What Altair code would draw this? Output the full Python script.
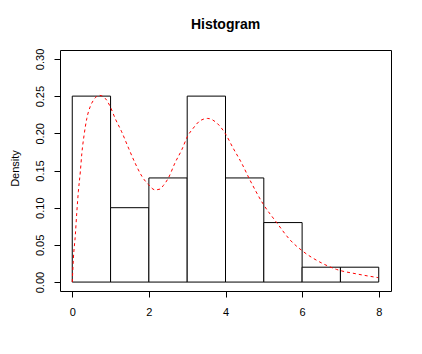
import altair as alt
import pandas as pd

# Histogram bins (density scale)
bin_left = [0, 1, 2, 3, 4, 5, 6, 7]
bin_right = [1, 2, 3, 4, 5, 6, 7, 8]
bar_density = [0.25, 0.10, 0.14, 0.25, 0.14, 0.08, 0.02, 0.02]

# Density curve
curve_x = [0.00, 0.03, 0.08, 0.12, 0.16, 0.21, 0.25, 0.31, 0.38, 0.47, 0.56,
           0.71, 0.86, 0.99, 1.12, 1.29, 1.47, 1.64, 1.82, 1.99, 2.16, 2.29,
           2.38, 2.51, 2.68, 2.86, 3.01, 3.16, 3.34, 3.53, 3.77, 3.99, 4.20,
           4.42, 4.64, 4.97, 5.35, 5.68, 6.03, 6.46, 6.90, 7.42, 7.98]
curve_y = [0.000, 0.032, 0.063, 0.095, 0.122, 0.148, 0.173, 0.198, 0.220, 0.236, 0.245,
           0.251, 0.247, 0.236, 0.220, 0.202, 0.180, 0.160, 0.142, 0.131, 0.124, 0.125,
           0.130, 0.140, 0.160, 0.178, 0.196, 0.207, 0.217, 0.220, 0.214, 0.200, 0.180,
           0.160, 0.137, 0.106, 0.079, 0.057, 0.041, 0.027, 0.017, 0.011, 0.006]

x_ticks = [0, 2, 4, 6, 8]
y_ticks = [0.00, 0.05, 0.10, 0.15, 0.20, 0.25, 0.30]

bars_df = pd.DataFrame({"left": bin_left, "right": bin_right, "density": bar_density})
curve_df = pd.DataFrame({"x": curve_x, "y": curve_y})

font = "Liberation Sans"
xscale = alt.Scale(domain=[-0.32, 8.32], nice=False, zero=False)
yscale = alt.Scale(domain=[-0.012, 0.312], nice=False, zero=False)

xaxis = alt.Axis(values=x_ticks, title=None, grid=False, domain=False,
                 tickSize=6, tickColor="black", labelColor="black",
                 labelFont=font, labelFontSize=11, labelPadding=9)
yaxis = alt.Axis(values=y_ticks, format=".2f", title="Density", grid=False,
                 domain=False, tickSize=6, tickColor="black", labelColor="black",
                 labelFont=font, labelFontSize=11, labelPadding=9,
                 labelAngle=270, labelAlign="center", labelBaseline="bottom",
                 titleFont=font, titleFontSize=11, titleFontWeight="normal",
                 titleColor="black", titleAngle=270, titleX=-45, titleY=118,
                 titleAlign="center", titleBaseline="middle")

bars = alt.Chart(bars_df).mark_rect(fill="white", stroke="black", strokeWidth=1).encode(
    x=alt.X("left:Q", scale=xscale, axis=xaxis),
    x2="right:Q",
    y=alt.Y("density:Q", scale=yscale, axis=yaxis),
    y2=alt.datum(0),
)

curve = alt.Chart(curve_df).mark_line(
    color="red", strokeDash=[3, 3], strokeWidth=1, interpolate="monotone"
).encode(
    x=alt.X("x:Q", scale=xscale),
    y=alt.Y("y:Q", scale=yscale),
)

chart = alt.layer(bars, curve).properties(
    width=331,
    height=241,
    title=alt.TitleParams("Histogram", font=font, fontSize=14, fontWeight="bold",
                          color="black", anchor="middle", baseline="alphabetic",
                          offset=5, frame="group"),
    autosize=alt.AutoSizeParams(type="none"),
    padding={"left": 52, "top": 42, "right": 15, "bottom": 47},
    background="white",
).configure_view(stroke="black", strokeWidth=1)

chart.save("out.html", embed_options={"renderer": "svg", "actions": False})
